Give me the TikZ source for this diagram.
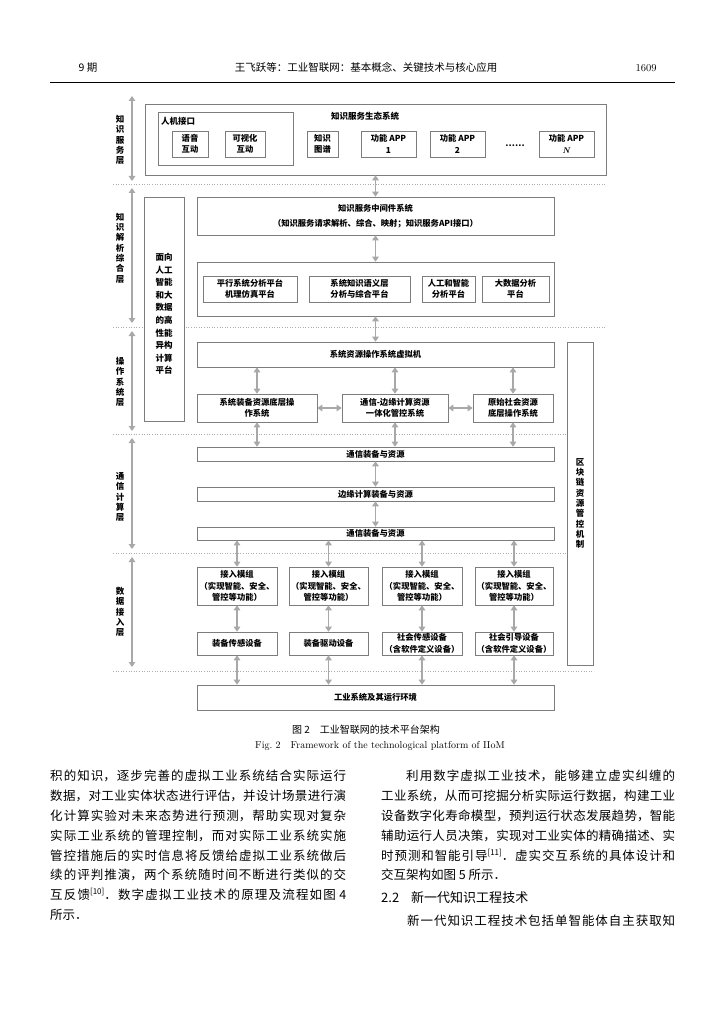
\documentclass[tikz,border=0pt]{standalone}
\usepackage{fontspec}
\newfontfamily\cjk{Noto Sans CJK SC}
\usetikzlibrary{arrows.meta}
\definecolor{arrgray}{RGB}{168,168,168}
\definecolor{boxgray}{RGB}{125,125,125}
\tikzset{
  bx/.style={draw=boxgray, line width=0.6pt, fill=white, inner sep=0pt, align=center,
    font=\cjk\bfseries\fontsize{8.3}{11.5}\selectfont},
  arr/.style={draw=arrgray, line width=1.7pt, {Triangle[length=5pt,width=6.5pt]}-{Triangle[length=5pt,width=6.5pt]}},
  dotl/.style={draw=gray!65, dotted, line width=0.6pt},
  lay/.style={font=\cjk\bfseries\fontsize{8.5}{10.3}\selectfont, align=center, inner sep=0pt},
  ttl/.style={font=\cjk\bfseries\fontsize{8.5}{10}\selectfont, inner sep=0pt},
  hdr/.style={font=\cjk\fontsize{10.5}{12}\selectfont, inner sep=0pt},
  body/.style={font=\cjk\fontsize{12.5}{19.8}\selectfont, align=justify, inner sep=0pt, anchor=north west},
}
\newcommand\bx[6]{\node[bx, minimum width={(#4-#2)*1pt}, minimum height={(#5-#3)*1pt}] (#1) at ({(#2+#4)/2},{(#3+#5)/2}) {#6};}
\newcommand\zhsetup{\XeTeXlinebreaklocale "zh"\XeTeXlinebreakskip=0pt plus 3pt\relax\tolerance=9999\relax}
\begin{document}
\begin{tikzpicture}[x=1pt,y=-1pt]
\useasboundingbox[fill=white] (0,0) rectangle (724,1024);

% ---------- header ----------
\node[hdr, anchor=base] (h1) at (88,72) {9 期};
\node[hdr, anchor=base] (h2) at (366,72) {王飞跃等：工业智联网：基本概念、关键技术与核心应用};
\node[hdr, anchor=base, font=\fontsize{10.5}{12}\selectfont] (h3) at (646,72) {1609};
\draw[line width=0.6pt] (50,82) -- (675,82);

% ---------- dotted separators ----------
\draw[dotl] (113,184) -- (606,184);
\draw[dotl] (113,327) -- (606,327);
\draw[dotl] (113,434) -- (567,434);
\draw[dotl] (113,553) -- (567,553);
\draw[dotl] (113,671) -- (594,671);

% ---------- left layer arrows ----------
\coordinate (a1t) at (132,96);  \coordinate (a1b) at (132,181);
\coordinate (a2t) at (132,188); \coordinate (a2b) at (132,323);
\coordinate (a3t) at (132,331); \coordinate (a3b) at (132,431);
\coordinate (a4t) at (132,438); \coordinate (a4b) at (132,549);
\coordinate (a5t) at (132,557); \coordinate (a5b) at (132,667);
\draw[arr] (a1t) -- (a1b);
\draw[arr] (a2t) -- (a2b);
\draw[arr] (a3t) -- (a3b);
\draw[arr] (a4t) -- (a4b);
\draw[arr] (a5t) -- (a5b);

\node[lay] (L1) at (120,140) {知\\识\\服\\务\\层};
\node[lay] (L2) at (120,248) {知\\识\\解\\析\\综\\合\\层};
\node[lay] (L3) at (120,382) {操\\作\\系\\统\\层};
\node[lay] (L4) at (120,497) {通\\信\\计\\算\\层};
\node[lay] (L5) at (120,612) {数\\据\\接\\入\\层};

% ---------- layer 1 ----------
\bx{eco}{145}{104}{606}{175}{}
\node[ttl] (ecot) at (365,116) {知识服务生态系统};
\bx{hmi}{158}{112}{293}{165}{}
\node[ttl, anchor=west] (hmit) at (161,121) {人机接口};
\bx{voice}{172}{131}{208}{157}{语音\\互动}
\bx{vis}{225}{131}{265}{157}{可视化\\互动}
\bx{kg}{307}{131}{338}{157}{知识\\图谱}
\bx{app1}{361}{131}{416}{157}{功能 APP\\1}
\bx{app2}{430}{131}{485}{157}{功能 APP\\2}
\node[ttl] (dots) at (515,146) {……};
\bx{appn}{539}{131}{594}{157}{功能 APP\\\textbf{\textit{\fontspec{Latin Modern Roman}N}}}

% ---------- layer 2 ----------
\bx{hpc}{144}{197}{184}{421}{}
\node[bx, draw=none, fill=none, font=\cjk\bfseries\fontsize{8.5}{12.6}\selectfont] (hpct) at (164,314) {面向\\人工\\智能\\和大\\数据\\的高\\性能\\异构\\计算\\平台};
\bx{mw}{197}{197}{554}{235}{知识服务中间件系统\\[3pt]（知识服务请求解析、综合、映射；知识服务API接口）}
\bx{plat}{197}{262}{554}{316}{}
\bx{p1}{203}{276}{297}{302}{平行系统分析平台\\机理仿真平台}
\bx{p2}{309}{276}{410}{302}{系统知识语义层\\分析与综合平台}
\bx{p3}{422}{276}{475}{302}{人工和智能\\分析平台}
\bx{p4}{482}{276}{549}{302}{大数据分析\\平台}

\draw[arr] (eco.south -| mw.north) -- (mw.north);
\draw[arr] (mw.south) -- (plat.north);

% ---------- layer 3 ----------
\bx{vm}{197}{342}{554}{367}{系统资源操作系统虚拟机}
\bx{o1}{197}{394}{317}{422}{系统装备资源底层操\\作系统}
\bx{o2}{342}{394}{448}{422}{通信-边缘计算资源\\一体化管控系统}
\bx{o3}{473}{394}{553}{422}{原始社会资源\\底层操作系统}
\draw[arr] (plat.south) -- (vm.north);
\draw[arr] (vm.south -| o1.north) -- (o1.north);
\draw[arr] (vm.south -| o2.north) -- (o2.north);
\draw[arr] (vm.south -| o3.north) -- (o3.north);
\draw[arr] (o1.east) -- (o2.west);
\draw[arr] (o2.east) -- (o3.west);

% ---------- right bar ----------
\bx{chain}{567}{342}{593}{665}{}
\node[lay] (chaint) at (chain.center) {区\\块\\链\\资\\源\\管\\控\\机\\制};

% ---------- layer 4 ----------
\bx{c1}{197}{447}{554}{461}{通信装备与资源}
\bx{c2}{197}{487}{554}{501}{边缘计算装备与资源}
\bx{c3}{197}{527}{554}{540}{通信装备与资源}
\draw[arr] (o1.south) -- (o1.south |- c1.north);
\draw[arr] (o2.south) -- (o2.south |- c1.north);
\draw[arr] (o3.south) -- (o3.south |- c1.north);
\draw[arr] (c1.south) -- (c2.north);
\draw[arr] (c2.south) -- (c3.north);

% ---------- layer 5 ----------
\bx{m1}{197}{567}{277}{605}{接入模组\\（实现智能、安全、\\管控等功能）}
\bx{m2}{289}{567}{368}{605}{接入模组\\（实现智能、安全、\\管控等功能）}
\bx{m3}{382}{567}{462}{605}{接入模组\\（实现智能、安全、\\管控等功能）}
\bx{m4}{475}{567}{553}{605}{接入模组\\（实现智能、安全、\\管控等功能）}
\bx{d1}{197}{632}{277}{655}{装备传感设备}
\bx{d2}{289}{632}{368}{655}{装备驱动设备}
\bx{d3}{382}{632}{462}{655}{社会传感设备\\（含软件定义设备）}
\bx{d4}{475}{632}{553}{655}{社会引导设备\\（含软件定义设备）}
\bx{env}{197}{685}{554}{710}{工业系统及其运行环境}
\foreach \m/\d in {m1/d1,m2/d2,m3/d3,m4/d4}{
  \draw[arr] (c3.south -| \m.north) -- (\m.north);
  \draw[arr] (\m.south) -- (\d.north);
  \draw[arr] (\d.south) -- (\d.south |- env.north);
}

% ---------- caption ----------
\node[font=\cjk\fontsize{10}{12}\selectfont, inner sep=0pt] (cap1) at (366,730) {图 2\quad 工业智联网的技术平台架构};
\node[font=\fontsize{10}{12}\selectfont, inner sep=0pt] (cap2) at (380,746) {Fig.~2\quad Framework of the technological platform of IIoM};

% ---------- body text ----------
\node[body, text width=296pt] (lcol) at (50,770) {\zhsetup\noindent
积的知识，逐步完善的虚拟工业系统结合实际运行\linebreak
数据，对工业实体状态进行评估，并设计场景进行演\linebreak
化计算实验对未来态势进行预测，帮助实现对复杂\linebreak
实际工业系统的管理控制，而对实际工业系统实施\linebreak
管控措施后的实时信息将反馈给虚拟工业系统做后\linebreak
续的评判推演，两个系统随时间不断进行类似的交\linebreak
互反馈{\fontsize{8}{8}\selectfont\raisebox{5pt}{[10]}}．数字虚拟工业技术的原理及流程如图 4\linebreak
所示．};

\node[body, text width=294pt] (rcol) at (381,770) {\zhsetup\noindent\hspace*{25pt}%
利用数字虚拟工业技术，能够建立虚实纠缠的\linebreak
工业系统，从而可挖掘分析实际运行数据，构建工业\linebreak
设备数字化寿命模型，预判运行状态发展趋势，智能\linebreak
辅助运行人员决策，实现对工业实体的精确描述、实\linebreak
时预测和智能引导{\fontsize{8}{8}\selectfont\raisebox{5pt}{[11]}}．虚实交互系统的具体设计和\linebreak
交互架构如图 5 所示．};

\node[font=\cjk\fontsize{13}{15}\selectfont, inner sep=0pt, anchor=base west] (sec) at (381,902) {2.2\hspace{12pt}新一代知识工程技术};
\node[body, text width=268pt] (last) at (407,914.5) {\zhsetup\noindent
新一代知识工程技术包括单智能体自主获取知\linebreak\mbox{}};
\end{tikzpicture}
\end{document}
